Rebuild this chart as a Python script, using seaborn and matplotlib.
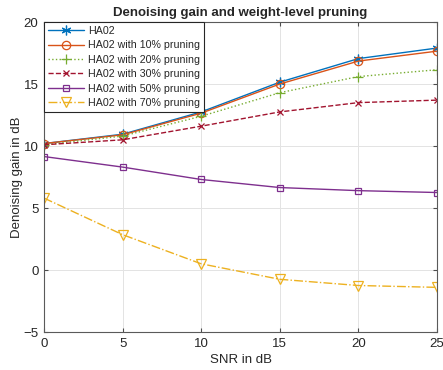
import matplotlib
matplotlib.use("Agg")
import matplotlib.pyplot as plt
import seaborn as sns
import pandas as pd

snr = [0, 5, 10, 15, 20, 25]
ha02 = [10.2, 10.95, 12.75, 15.15, 17.05, 17.9]
p10 = [10.2, 10.9, 12.65, 15.0, 16.85, 17.65]
p20 = [10.1, 10.8, 12.4, 14.3, 15.6, 16.15]
p30 = [10.1, 10.5, 11.6, 12.75, 13.5, 13.7]
p50 = [9.15, 8.3, 7.3, 6.65, 6.4, 6.25]
p70 = [5.8, 2.85, 0.5, -0.75, -1.25, -1.4]

labels = ["HA02", "HA02 with 10% pruning", "HA02 with 20% pruning",
          "HA02 with 30% pruning", "HA02 with 50% pruning", "HA02 with 70% pruning"]
series = [ha02, p10, p20, p30, p50, p70]

colors = ["#0072BD", "#D95319", "#77AC30", "#A2142F", "#7E2F8E", "#EDB120"]
markers = [(6, 2, 0), "o", "+", "x", "s", "v"]
styles = ["-", "-", ":", "--", "-", "-."]
msizes = [7, 6, 6.5, 5, 4.5, 6.5]

sns.set_style("white")
plt.rcParams["font.family"] = ["Liberation Sans", "DejaVu Sans"]

fig = plt.figure(figsize=(4.43, 3.70), dpi=100)
ax = fig.add_axes([0.0993, 0.1027, 0.8872, 0.8378])

for lab, vals, c, m, ls, ms in zip(labels, series, colors, markers, styles, msizes):
    df = pd.DataFrame({"snr": snr, "gain": vals})
    sns.lineplot(data=df, x="snr", y="gain", ax=ax, color=c, marker=m,
                 linestyle=ls, linewidth=1.0, markersize=ms,
                 markerfacecolor="none", markeredgecolor=c, markeredgewidth=0.9,
                 label=lab)

ax.set_xlim(0, 25)
ax.set_ylim(-5, 20)
ax.set_xticks([0, 5, 10, 15, 20, 25])
ax.set_yticks([-5, 0, 5, 10, 15, 20])
ax.grid(True, color="#e3e3e3", linewidth=0.7)
ax.tick_params(direction="in", length=3, labelsize=9.5, colors="#4d4d4d",
               labelcolor="#262626",
               top=True, right=True, bottom=True, left=True, pad=4)
for s in ax.spines.values():
    s.set_color("#5a5a5a")
    s.set_linewidth(0.8)
    s.set_visible(True)
ax.set_xlabel("SNR in dB", fontsize=9.5, color="#262626", labelpad=3)
ax.set_ylabel("Denoising gain in dB", fontsize=9.5, color="#262626", labelpad=0)
ax.set_title("Denoising gain and weight-level pruning", fontsize=9.5,
             fontweight="bold", pad=4)

leg = ax.legend(loc="upper left", borderaxespad=0, fontsize=7.7, frameon=True,
                fancybox=False, handlelength=3.4, handletextpad=0.4,
                labelspacing=0.42, borderpad=0.35)
leg.get_frame().set_edgecolor("#262626")
leg.get_frame().set_linewidth(0.8)
leg.get_frame().set_alpha(1)

fig.savefig("out.png", dpi=100)
